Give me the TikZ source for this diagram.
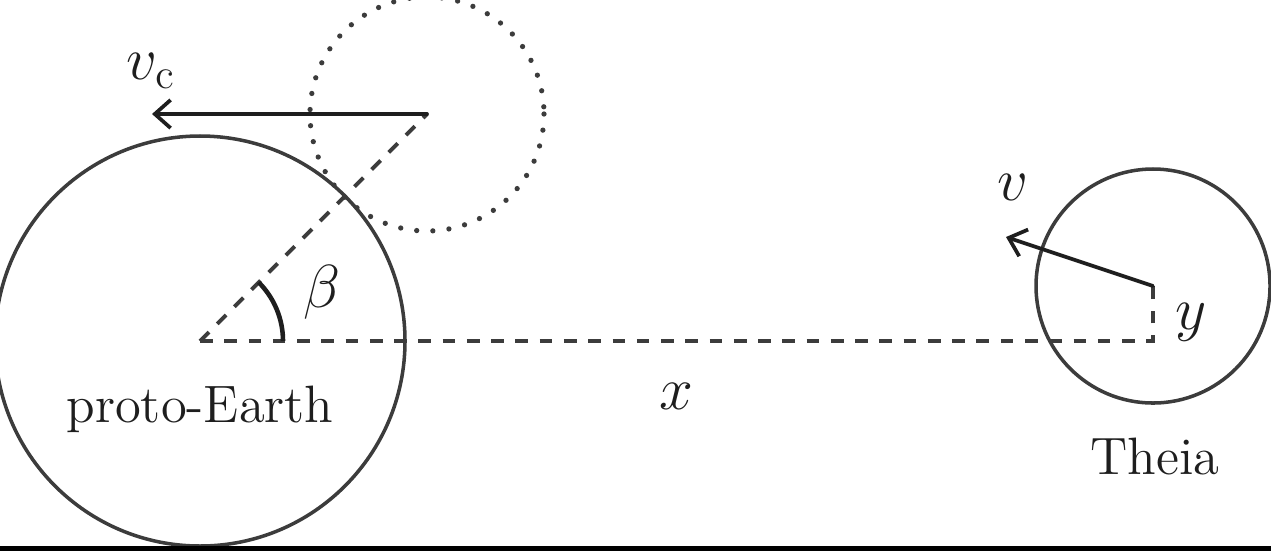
\documentclass[tikz,border=0pt]{standalone}
\usetikzlibrary{arrows.meta}
\definecolor{ink}{HTML}{3C3C3C}
\definecolor{inkdark}{HTML}{1E1E1E}
\begin{document}
\begin{tikzpicture}[x=0.01cm,y=-0.01cm,
  body/.style={draw=ink, line width=1pt},
  ghost/.style={draw=ink, line width=1.5pt, line cap=round, dash pattern=on 0pt off 4.6pt},
  guide/.style={draw=ink, line width=1.1pt, dash pattern=on 3.6pt off 3.3pt},
  vel/.style={draw=inkdark, line width=1.05pt, line cap=round, -{Straight Barb[length=4.5pt,width=8pt,line width=1.05pt]}},
  anglemark/.style={draw=inkdark, line width=1.3pt},
  lbl/.style={text=inkdark, font=\fontsize{14.6}{17}\selectfont, inner sep=0pt},
  mlbl/.style={text=inkdark, font=\fontsize{18.8}{22}\selectfont, inner sep=0pt}]
\useasboundingbox (0,0) rectangle (1271,551);
\clip (0,0) rectangle (1271,551);
% key points
\coordinate (E) at (200,341);
\coordinate (C) at (427,114);
\coordinate (T) at (1153,286);
\coordinate (F) at (1153,341);
\coordinate (vcend) at (152,114);
\coordinate (vend) at (1006,237);
\coordinate (arcstart) at (283,341);
% bodies
\draw[body] (E) circle[radius=205];
\draw[ghost] (C) circle[radius=117];
\draw[body] (T) circle[radius=117];
% guides
\draw[guide] (E) -- (C);
\draw[guide] (E) -- (F) -- (T);
\draw[anglemark] (arcstart) arc[start angle=0, end angle=-45, radius=83];
% velocities
\draw[vel] (C) -- (vcend);
\draw[vel] (T) -- (vend);
% labels
\node[mlbl] (lvc) at (151,71) {$v_{\mathrm{c}}$};
\node[mlbl] (lbeta) at (322,292) {$\beta$};
\node[lbl, anchor=base] (learth) at (200,422) {\scalebox{1.025}{proto-Earth}};
\node[mlbl] (lx) at (676,396) {$x$};
\node[mlbl] (lv) at (1013,187) {$v$};
\node[mlbl] (ly) at (1191,322) {$y$};
\node[lbl, anchor=base] (ltheia) at (1155,474) {\scalebox{1.025}{Theia}};
% bottom bar
\fill[black] (0,546) rectangle (1271,551);
\end{tikzpicture}
\end{document}
